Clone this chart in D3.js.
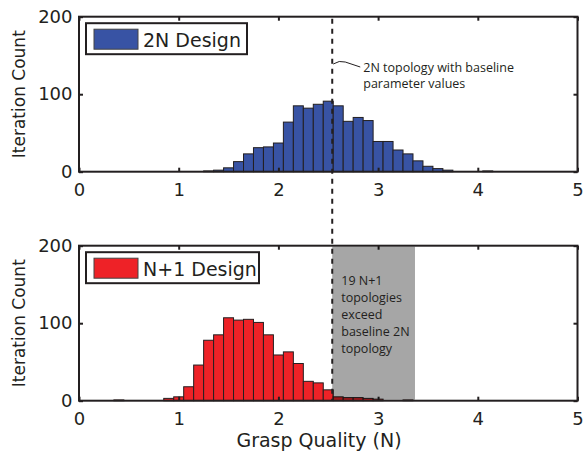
<!DOCTYPE html>
<html><head><meta charset="utf-8">
<script src="https://cdn.jsdelivr.net/npm/d3@7"></script>
<style>body{margin:0;background:#fff}svg{display:block}</style>
</head><body>
<svg id="c" width="584" height="452"></svg>
<script>
// Data
const binsTop = [1.3,1.4,1.5,1.6,1.7,1.8,1.9,2.0,2.1,2.2,2.3,2.4,2.5,2.6,2.7,2.8,2.9,3.0,3.1,3.2,3.3,3.4,3.5,3.6,3.7,4.1];
const countsTop = [1,2,5,13,23,31,32,37,64,85,82,87,91,85,65,70,66,39,39,28,23,14,7,4,2,1];
const binsBottom = [0.4,0.9,1.0,1.1,1.2,1.3,1.4,1.5,1.6,1.7,1.8,1.9,2.0,2.1,2.2,2.3,2.4,2.5,2.6,2.7,2.8,2.9,3.0,3.3];
const countsBottom = [1,3,5,18,46,78,85,107,104,105,101,85,59,63,48,25,23,14,5,4,4,3,2,1];
const xTicks = [0,1,2,3,4,5];
const yTicks = [0,100,200];
const binWidth = 0.1;
const baselineValue = 2.54;
const exceedMax = 3.37;
const legendTop = "2N Design";
const legendBottom = "N+1 Design";
const annoTop = ["2N topology with baseline","parameter values"];
const annoBox = ["19 N+1","topologies","exceed","baseline 2N","topology"];

const svg = d3.select("#c");
const x = d3.scaleLinear().domain([0,5]).range([79,577.5]);
const ink = "#231f20";
const tickFont = "DejaVu Sans";

function panel(yTopPx, yBotPx, bins, counts, color, legendText, legendW) {
  const y = d3.scaleLinear().domain([0,200]).range([yBotPx, yTopPx]);
  const g = svg.append("g");
  g.selectAll("rect.bar").data(bins.map((b,i)=>({b, c:counts[i]}))).join("rect")
    .attr("class","bar")
    .attr("x", d=>x(d.b - binWidth/2))
    .attr("width", d=>x(d.b + binWidth/2) - x(d.b - binWidth/2))
    .attr("y", d=>y(d.c))
    .attr("height", d=>y(0)-y(d.c))
    .attr("fill", color).attr("stroke", ink).attr("stroke-width", 1);
  const ax = g.append("g").attr("transform",`translate(0,${yBotPx})`)
    .call(d3.axisBottom(x).tickValues(xTicks).tickSizeInner(-4).tickSizeOuter(0).tickPadding(11.5).tickFormat(d3.format("d")));
  const ay = g.append("g").attr("transform",`translate(${x.range()[0]},0)`)
    .call(d3.axisLeft(y).tickValues(yTicks).tickSizeInner(-4).tickSizeOuter(0).tickPadding(6.5));
  const at = g.append("g").attr("transform",`translate(0,${yTopPx})`)
    .call(d3.axisTop(x).tickValues(xTicks).tickSizeInner(-4).tickSizeOuter(0).tickFormat(""));
  const ar = g.append("g").attr("transform",`translate(${x.range()[1]},0)`)
    .call(d3.axisRight(y).tickValues(yTicks).tickSizeInner(-4).tickSizeOuter(0).tickFormat(""));
  [ax,ay,at,ar].forEach(a=>{
    a.select(".domain").remove();
    a.selectAll("line").attr("stroke", ink).attr("stroke-width", 2);
    a.selectAll("text").attr("font-family", tickFont).attr("font-size", 18).attr("fill", ink);
  });
  g.append("rect").attr("x", x.range()[0]).attr("y", yTopPx)
    .attr("width", x.range()[1]-x.range()[0]).attr("height", yBotPx-yTopPx)
    .attr("fill","none").attr("stroke", ink).attr("stroke-width", 2);
  g.append("text").attr("transform",`translate(25,${(yTopPx+yBotPx)/2}) rotate(-90)`)
    .attr("text-anchor","middle").attr("font-family", tickFont).attr("font-size", 17)
    .attr("fill", ink).text("Iteration Count");
  const lx = 86, ly = yTopPx + 6.5;
  g.append("rect").attr("x", lx).attr("y", ly).attr("width", legendW).attr("height", 31)
    .attr("fill","#fff").attr("stroke", ink).attr("stroke-width", 2);
  g.append("rect").attr("x", lx+8).attr("y", ly+6).attr("width", 44).attr("height", 20)
    .attr("fill", color).attr("stroke", "#444").attr("stroke-width", 1);
  g.append("text").attr("x", lx+57).attr("y", ly+23.5).attr("font-family", tickFont)
    .attr("font-size", 19).attr("fill", ink).text(legendText);
  return y;
}

const yT = panel(16.7, 171.7, binsTop, countsTop, "#3853a4", legendTop, 161);
const yB = panel(245.7, 400.7, binsBottom, countsBottom, "#ee2227", legendBottom, 173);

// gray overlay
svg.append("rect").attr("x", x(baselineValue)).attr("y", yB(200)+1)
  .attr("width", x(exceedMax)-x(baselineValue)).attr("height", yB(0)-yB(200)-2)
  .attr("fill","#000").attr("fill-opacity",0.35);
svg.append("g").selectAll("text").data(annoBox).join("text")
  .attr("x", x(baselineValue)+9).attr("y", (d,i)=>285 + i*17)
  .attr("font-family","Open Sans").attr("font-size", 12.5).attr("fill", ink).text(d=>d);

// dashed baseline
svg.append("line").attr("x1", x(baselineValue)).attr("x2", x(baselineValue))
  .attr("y1", yT(200)+2).attr("y2", yB(0))
  .attr("stroke", ink).attr("stroke-width", 2).attr("stroke-dasharray","5,5");

// annotation
const ax0 = x(baselineValue);
svg.append("path").attr("d", `M${ax0+1},64 Q${ax0+7},60 ${ax0+13},62 T${ax0+28},67`)
  .attr("fill","none").attr("stroke", ink).attr("stroke-width", 1);
svg.append("g").selectAll("text").data(annoTop).join("text")
  .attr("x", ax0+31).attr("y", (d,i)=>72 + i*16)
  .attr("font-family","Open Sans").attr("font-size", 12.5).attr("fill", ink).text(d=>d);

// x label
svg.append("text").attr("x", 319).attr("y", 446.5).attr("text-anchor","middle")
  .attr("font-family", tickFont).attr("font-size", 19).attr("fill", ink).text("Grasp Quality (N)");
</script>
</body></html>
